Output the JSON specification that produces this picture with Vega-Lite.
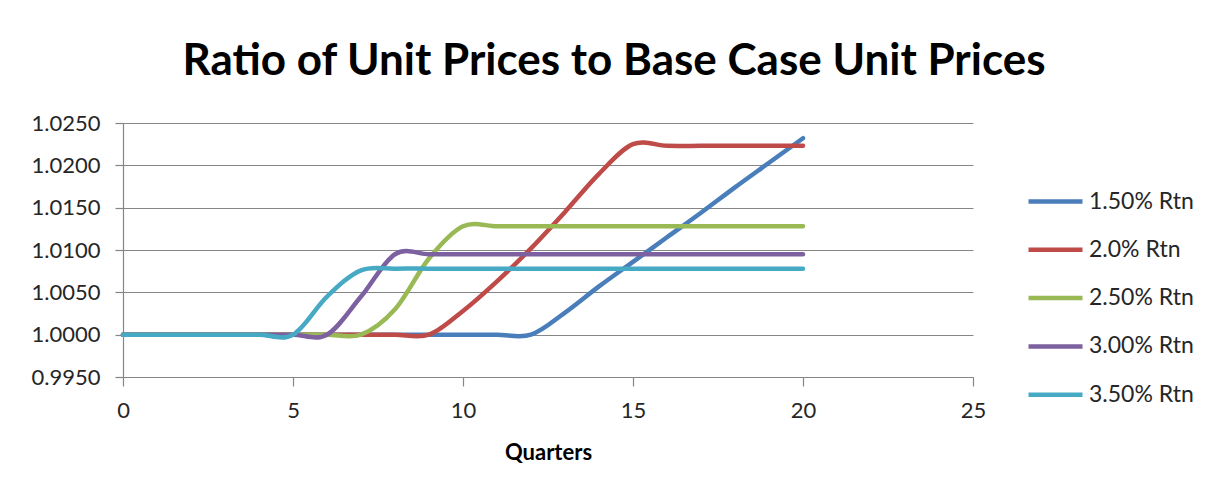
{
  "$schema": "https://vega.github.io/schema/vega-lite/v6.json",
  "width": 850,
  "height": 254,
  "autosize": {"type": "none"},
  "padding": {"left": 123, "top": 123, "right": 243, "bottom": 121},
  "background": "white",
  "title": {
    "text": "Ratio of Unit Prices to Base Case Unit Prices",
    "font": "Lato",
    "fontSize": 44,
    "fontWeight": "bold",
    "color": "#000000",
    "anchor": "middle",
    "dx": 66,
    "offset": 28
  },
  "data": {
    "values": [
      {"series": "1.50% Rtn", "q": 0, "ratio": 1.0},
      {"series": "1.50% Rtn", "q": 1, "ratio": 1.0},
      {"series": "1.50% Rtn", "q": 2, "ratio": 1.0},
      {"series": "1.50% Rtn", "q": 3, "ratio": 1.0},
      {"series": "1.50% Rtn", "q": 4, "ratio": 1.0},
      {"series": "1.50% Rtn", "q": 5, "ratio": 1.0},
      {"series": "1.50% Rtn", "q": 6, "ratio": 1.0},
      {"series": "1.50% Rtn", "q": 7, "ratio": 1.0},
      {"series": "1.50% Rtn", "q": 8, "ratio": 1.0},
      {"series": "1.50% Rtn", "q": 9, "ratio": 1.0},
      {"series": "1.50% Rtn", "q": 10, "ratio": 1.0},
      {"series": "1.50% Rtn", "q": 11, "ratio": 1.0},
      {"series": "1.50% Rtn", "q": 12, "ratio": 1.0},
      {"series": "1.50% Rtn", "q": 13, "ratio": 1.0026},
      {"series": "1.50% Rtn", "q": 14, "ratio": 1.0057},
      {"series": "1.50% Rtn", "q": 15, "ratio": 1.0086},
      {"series": "1.50% Rtn", "q": 16, "ratio": 1.0115},
      {"series": "1.50% Rtn", "q": 17, "ratio": 1.0144},
      {"series": "1.50% Rtn", "q": 18, "ratio": 1.0174},
      {"series": "1.50% Rtn", "q": 19, "ratio": 1.0203},
      {"series": "1.50% Rtn", "q": 20, "ratio": 1.0232},

      {"series": "2.0% Rtn", "q": 0, "ratio": 1.0},
      {"series": "2.0% Rtn", "q": 1, "ratio": 1.0},
      {"series": "2.0% Rtn", "q": 2, "ratio": 1.0},
      {"series": "2.0% Rtn", "q": 3, "ratio": 1.0},
      {"series": "2.0% Rtn", "q": 4, "ratio": 1.0},
      {"series": "2.0% Rtn", "q": 5, "ratio": 1.0},
      {"series": "2.0% Rtn", "q": 6, "ratio": 1.0},
      {"series": "2.0% Rtn", "q": 7, "ratio": 1.0},
      {"series": "2.0% Rtn", "q": 8, "ratio": 1.0},
      {"series": "2.0% Rtn", "q": 9, "ratio": 1.0},
      {"series": "2.0% Rtn", "q": 10, "ratio": 1.0028},
      {"series": "2.0% Rtn", "q": 11, "ratio": 1.0063},
      {"series": "2.0% Rtn", "q": 12, "ratio": 1.0102},
      {"series": "2.0% Rtn", "q": 13, "ratio": 1.0145},
      {"series": "2.0% Rtn", "q": 14, "ratio": 1.019},
      {"series": "2.0% Rtn", "q": 15, "ratio": 1.0225},
      {"series": "2.0% Rtn", "q": 16, "ratio": 1.0223},
      {"series": "2.0% Rtn", "q": 17, "ratio": 1.0223},
      {"series": "2.0% Rtn", "q": 18, "ratio": 1.0223},
      {"series": "2.0% Rtn", "q": 19, "ratio": 1.0223},
      {"series": "2.0% Rtn", "q": 20, "ratio": 1.0223},

      {"series": "2.50% Rtn", "q": 0, "ratio": 1.0},
      {"series": "2.50% Rtn", "q": 1, "ratio": 1.0},
      {"series": "2.50% Rtn", "q": 2, "ratio": 1.0},
      {"series": "2.50% Rtn", "q": 3, "ratio": 1.0},
      {"series": "2.50% Rtn", "q": 4, "ratio": 1.0},
      {"series": "2.50% Rtn", "q": 5, "ratio": 1.0},
      {"series": "2.50% Rtn", "q": 6, "ratio": 1.0},
      {"series": "2.50% Rtn", "q": 7, "ratio": 1.0},
      {"series": "2.50% Rtn", "q": 8, "ratio": 1.003},
      {"series": "2.50% Rtn", "q": 9, "ratio": 1.009},
      {"series": "2.50% Rtn", "q": 10, "ratio": 1.0128},
      {"series": "2.50% Rtn", "q": 11, "ratio": 1.0128},
      {"series": "2.50% Rtn", "q": 12, "ratio": 1.0128},
      {"series": "2.50% Rtn", "q": 13, "ratio": 1.0128},
      {"series": "2.50% Rtn", "q": 14, "ratio": 1.0128},
      {"series": "2.50% Rtn", "q": 15, "ratio": 1.0128},
      {"series": "2.50% Rtn", "q": 16, "ratio": 1.0128},
      {"series": "2.50% Rtn", "q": 17, "ratio": 1.0128},
      {"series": "2.50% Rtn", "q": 18, "ratio": 1.0128},
      {"series": "2.50% Rtn", "q": 19, "ratio": 1.0128},
      {"series": "2.50% Rtn", "q": 20, "ratio": 1.0128},

      {"series": "3.00% Rtn", "q": 0, "ratio": 1.0},
      {"series": "3.00% Rtn", "q": 1, "ratio": 1.0},
      {"series": "3.00% Rtn", "q": 2, "ratio": 1.0},
      {"series": "3.00% Rtn", "q": 3, "ratio": 1.0},
      {"series": "3.00% Rtn", "q": 4, "ratio": 1.0},
      {"series": "3.00% Rtn", "q": 5, "ratio": 1.0},
      {"series": "3.00% Rtn", "q": 6, "ratio": 1.0},
      {"series": "3.00% Rtn", "q": 7, "ratio": 1.0045},
      {"series": "3.00% Rtn", "q": 8, "ratio": 1.0095},
      {"series": "3.00% Rtn", "q": 9, "ratio": 1.0095},
      {"series": "3.00% Rtn", "q": 10, "ratio": 1.0095},
      {"series": "3.00% Rtn", "q": 11, "ratio": 1.0095},
      {"series": "3.00% Rtn", "q": 12, "ratio": 1.0095},
      {"series": "3.00% Rtn", "q": 13, "ratio": 1.0095},
      {"series": "3.00% Rtn", "q": 14, "ratio": 1.0095},
      {"series": "3.00% Rtn", "q": 15, "ratio": 1.0095},
      {"series": "3.00% Rtn", "q": 16, "ratio": 1.0095},
      {"series": "3.00% Rtn", "q": 17, "ratio": 1.0095},
      {"series": "3.00% Rtn", "q": 18, "ratio": 1.0095},
      {"series": "3.00% Rtn", "q": 19, "ratio": 1.0095},
      {"series": "3.00% Rtn", "q": 20, "ratio": 1.0095},

      {"series": "3.50% Rtn", "q": 0, "ratio": 1.0},
      {"series": "3.50% Rtn", "q": 1, "ratio": 1.0},
      {"series": "3.50% Rtn", "q": 2, "ratio": 1.0},
      {"series": "3.50% Rtn", "q": 3, "ratio": 1.0},
      {"series": "3.50% Rtn", "q": 4, "ratio": 1.0},
      {"series": "3.50% Rtn", "q": 5, "ratio": 1.0},
      {"series": "3.50% Rtn", "q": 6, "ratio": 1.0045},
      {"series": "3.50% Rtn", "q": 7, "ratio": 1.0076},
      {"series": "3.50% Rtn", "q": 8, "ratio": 1.0078},
      {"series": "3.50% Rtn", "q": 9, "ratio": 1.0078},
      {"series": "3.50% Rtn", "q": 10, "ratio": 1.0078},
      {"series": "3.50% Rtn", "q": 11, "ratio": 1.0078},
      {"series": "3.50% Rtn", "q": 12, "ratio": 1.0078},
      {"series": "3.50% Rtn", "q": 13, "ratio": 1.0078},
      {"series": "3.50% Rtn", "q": 14, "ratio": 1.0078},
      {"series": "3.50% Rtn", "q": 15, "ratio": 1.0078},
      {"series": "3.50% Rtn", "q": 16, "ratio": 1.0078},
      {"series": "3.50% Rtn", "q": 17, "ratio": 1.0078},
      {"series": "3.50% Rtn", "q": 18, "ratio": 1.0078},
      {"series": "3.50% Rtn", "q": 19, "ratio": 1.0078},
      {"series": "3.50% Rtn", "q": 20, "ratio": 1.0078}
    ]
  },
  "mark": {
    "type": "line",
    "interpolate": "cardinal",
    "tension": 0,
    "strokeWidth": 4.5,
    "strokeCap": "round",
    "strokeJoin": "round"
  },
  "encoding": {
    "x": {
      "field": "q",
      "type": "quantitative",
      "scale": {"domain": [0, 25], "nice": false},
      "axis": {
        "title": "Quarters",
        "values": [0, 5, 10, 15, 20, 25],
        "grid": false,
        "tickSize": 9,
        "labelFlush": false,
        "labelBound": false,
        "labelPadding": 14,
        "titlePadding": 21
      }
    },
    "y": {
      "field": "ratio",
      "type": "quantitative",
      "scale": {"domain": [0.995, 1.025], "zero": false, "nice": false},
      "axis": {
        "title": null,
        "format": ".4f",
        "values": [0.995, 1.0, 1.005, 1.01, 1.015, 1.02, 1.025],
        "grid": true,
        "tickSize": 8,
        "labelPadding": 15
      }
    },
    "color": {
      "field": "series",
      "type": "nominal",
      "scale": {
        "domain": ["1.50% Rtn", "2.0% Rtn", "2.50% Rtn", "3.00% Rtn", "3.50% Rtn"],
        "range": ["#4A7EBB", "#BE4B48", "#98B954", "#7D60A0", "#46AAC5"]
      },
      "legend": {
        "title": null,
        "orient": "none",
        "legendX": 903,
        "legendY": 49,
        "padding": 0,
        "symbolType": "stroke",
        "symbolSize": 2916,
        "symbolStrokeWidth": 4.5,
        "labelOffset": 4,
        "rowPadding": 6.3,
        "labelFont": "Lato",
        "labelFontSize": 23,
        "labelColor": "#262626"
      }
    }
  },
  "config": {
    "view": {"stroke": null},
    "axis": {
      "domainColor": "#868686",
      "domainWidth": 1.2,
      "tickColor": "#868686",
      "tickWidth": 1.2,
      "gridColor": "#868686",
      "gridWidth": 1.2,
      "labelFont": "Lato",
      "labelFontSize": 22,
      "labelColor": "#262626",
      "titleFont": "Lato",
      "titleFontSize": 22,
      "titleFontWeight": "bold",
      "titleColor": "#000000"
    }
  }
}
